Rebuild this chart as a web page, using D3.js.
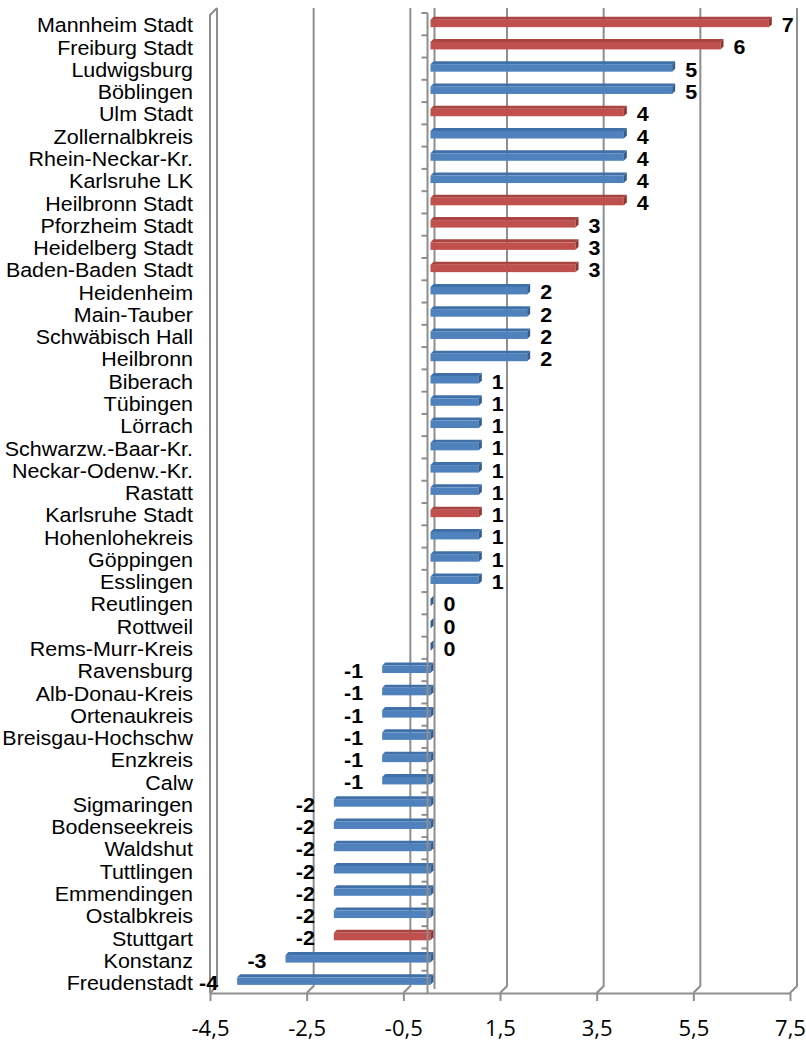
<!DOCTYPE html>
<html>
<head>
<meta charset="utf-8">
<script src="https://cdn.jsdelivr.net/npm/d3@7"></script>
<style>
  html, body { margin: 0; padding: 0; background: #fff; }
  svg { display: block; }
</style>
</head>
<body>
<svg id="chart" width="806" height="1045"></svg>
<script>
// Districts, top to bottom
const categories = [
  "Mannheim Stadt", "Freiburg Stadt", "Ludwigsburg", "Böblingen", "Ulm Stadt",
  "Zollernalbkreis", "Rhein-Neckar-Kr.", "Karlsruhe LK", "Heilbronn Stadt",
  "Pforzheim Stadt", "Heidelberg Stadt", "Baden-Baden Stadt", "Heidenheim",
  "Main-Tauber", "Schwäbisch Hall", "Heilbronn", "Biberach", "Tübingen",
  "Lörrach", "Schwarzw.-Baar-Kr.", "Neckar-Odenw.-Kr.", "Rastatt",
  "Karlsruhe Stadt", "Hohenlohekreis", "Göppingen", "Esslingen", "Reutlingen",
  "Rottweil", "Rems-Murr-Kreis", "Ravensburg", "Alb-Donau-Kreis",
  "Ortenaukreis", "Breisgau-Hochschw", "Enzkreis", "Calw", "Sigmaringen",
  "Bodenseekreis", "Waldshut", "Tuttlingen", "Emmendingen", "Ostalbkreis",
  "Stuttgart", "Konstanz", "Freudenstadt"
];
const values = [
  7, 6, 5, 5, 4, 4, 4, 4, 4, 3, 3, 3, 2, 2, 2, 2, 1, 1, 1, 1, 1, 1, 1, 1, 1, 1,
  0, 0, 0, -1, -1, -1, -1, -1, -1, -2, -2, -2, -2, -2, -2, -2, -3, -4
];
// Urban districts (Stadtkreise), drawn in red
const stadtkreise = [
  "Mannheim Stadt", "Freiburg Stadt", "Ulm Stadt", "Heilbronn Stadt",
  "Pforzheim Stadt", "Heidelberg Stadt", "Baden-Baden Stadt",
  "Karlsruhe Stadt", "Stuttgart"
];
const tickValues = [-4.5, -2.5, -0.5, 1.5, 3.5, 5.5, 7.5];
const tickLabels = ["-4,5", "-2,5", "-0,5", "1,5", "3,5", "5,5", "7,5"];

const data = categories.map((c, i) => ({ name: c, value: values[i], city: stadtkreise.includes(c) }));

const svg = d3.select("#chart");
const plotTop = 13, plotBottom = 993;
const x = d3.scaleLinear().domain([-4.5, 7.5]).range([210, 790]);
const y = d3.scaleBand().domain(categories).range([plotTop, plotBottom]).padding(0);

// depth offset of the back wall
const dx = 7, dy = -7;
const gridColor = "#8e8e8e";
const stretch = 1.1; // horizontal stretch of the text glyphs

const palette = {
  land: { front: "#4f81bd", top: "#4070a8", side: "#365d8e" },
  city: { front: "#c0504d", top: "#a84541", side: "#8e3633" }
};

// back-wall gridlines with their floor segment
const grid = svg.append("g").attr("fill", "none").attr("stroke", gridColor).attr("stroke-width", 2);
tickValues.forEach(v => {
  const xf = x(v);
  grid.append("path")
    .attr("d", `M${xf + dx},${plotTop + dy + 2} L${xf + dx},${plotBottom + dy} L${xf},${plotBottom}`);
});
// side wall (left edge) front line and cap
grid.append("path")
  .attr("d", `M${x(-4.5)},${plotBottom} L${x(-4.5)},${plotTop + 2} L${x(-4.5) + dx},${plotTop + dy + 2}`);

// category axis at zero: back line
grid.append("line")
  .attr("x1", x(0) + dx).attr("x2", x(0) + dx)
  .attr("y1", plotTop + dy + 2).attr("y2", plotBottom + dy + 3);

// bars
const bars = svg.append("g");
const bh = 7.5, td = 3; // front-face height, visible depth
data.forEach(d => {
  const c = d.city ? palette.city : palette.land;
  const xl = x(Math.min(0, d.value)) + 3;
  const xr = x(Math.max(0, d.value)) + 3;
  const yc = y(d.name) + y.bandwidth() / 2;
  const yt = yc - 4.5, yb = yt + bh;
  if (xr - xl > 0.5) {
    bars.append("path").attr("fill", c.top)
      .attr("d", `M${xl},${yt} L${xr},${yt} L${xr + td},${yt - td} L${xl + td},${yt - td} Z`);
    bars.append("rect").attr("fill", c.front)
      .attr("x", xl).attr("y", yt).attr("width", xr - xl).attr("height", bh);
  }
  bars.append("path").attr("fill", c.side)
    .attr("d", `M${xr},${yt} L${xr + td},${yt - td} L${xr + td},${yb - td} L${xr},${yb} Z`);
});

// category axis at zero: front line with ticks between categories
const catAxis = svg.append("g").attr("stroke", gridColor).attr("stroke-width", 2).attr("fill", "none");
catAxis.append("line")
  .attr("x1", x(0)).attr("x2", x(0)).attr("y1", plotTop).attr("y2", plotBottom);
d3.range(categories.length).forEach(i => {
  const yy = plotTop + i * y.step();
  catAxis.append("line").attr("x1", x(0) - 6).attr("x2", x(0)).attr("y1", yy).attr("y2", yy);
});

// value axis
const xAxis = d3.axisBottom(x)
  .tickValues(tickValues)
  .tickFormat((d, i) => tickLabels[i])
  .tickSizeInner(8).tickSizeOuter(0).tickPadding(19);
const gx = svg.append("g").attr("transform", `translate(0,${plotBottom})`).call(xAxis);
gx.selectAll("path, line").attr("stroke", gridColor).attr("stroke-width", 2);
gx.selectAll("text")
  .attr("fill", "#000")
  .style("font-family", "'Open Sans', sans-serif")
  .style("font-size", "22px");

// category labels, right-aligned left of the side wall
const yAxis = d3.axisLeft(y).tickSize(0).tickPadding(0);
const gy = svg.append("g")
  .attr("transform", `translate(${x(-4.5) - 17},0) scale(${stretch},1)`)
  .call(yAxis);
gy.select(".domain").remove();
gy.selectAll("text")
  .attr("fill", "#000")
  .attr("dy", "0.42em")
  .style("font-family", "'Liberation Sans', Arial, sans-serif")
  .style("font-size", "19.5px");

// value labels
svg.append("g").selectAll("text")
  .data(data).join("text")
  .attr("transform", d => {
    const lx = d.value >= 0 ? x(d.value) + 16 : x(d.value) - 16;
    const ly = y(d.name) + y.bandwidth() / 2 + 1;
    return `translate(${lx},${ly}) scale(${stretch},1)`;
  })
  .attr("dy", "0.36em")
  .attr("text-anchor", d => d.value >= 0 ? "start" : "end")
  .style("font-family", "'Liberation Sans', Arial, sans-serif")
  .style("font-weight", "bold")
  .style("font-size", "19.5px")
  .text(d => d3.format("d")(d.value).replace("−", "-"));
</script>
</body>
</html>
